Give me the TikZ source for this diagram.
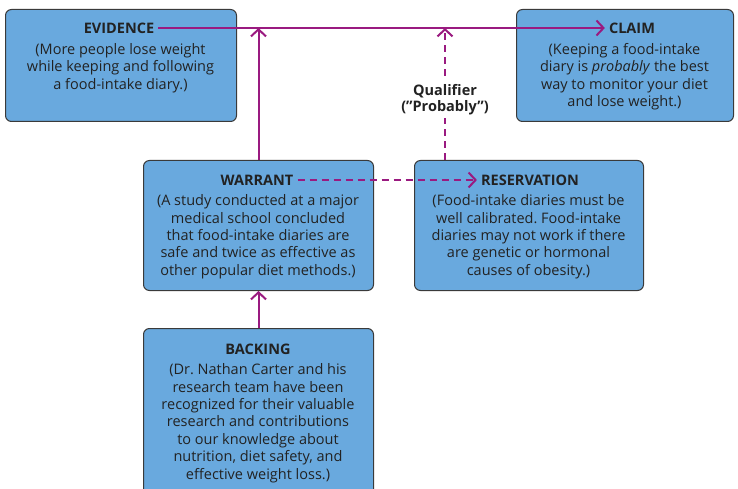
\documentclass[tikz,border=0pt]{standalone}
\usepackage{fontspec}
\setmainfont{Open Sans}
\usetikzlibrary{arrows.meta}
\definecolor{boxblue}{HTML}{69A9DE}
\definecolor{boxline}{HTML}{3A3A3A}
\definecolor{arrowc}{HTML}{9A1A80}
\definecolor{txt}{HTML}{222222}
\frenchspacing
\begin{document}
\begin{tikzpicture}[x=1pt,y=-1pt,
  box/.style={draw=boxline, line width=1pt, fill=boxblue, rounded corners=6pt, anchor=north west, inner sep=0pt},
  ttl/.style={font=\bfseries\fontsize{14.5}{16}\selectfont, text=txt, inner xsep=4pt, inner ysep=1pt},
  body/.style={font=\fontsize{14.5}{17.4}\selectfont, text=txt, align=center, anchor=north, inner sep=0pt},
  arr/.style={draw=arrowc, line width=2pt, -{Straight Barb[length=7pt,width=15pt,line width=2pt]}},
  dsh/.style={dash pattern=on 7pt off 5pt}
]
\useasboundingbox (0,0) rectangle (738,489);
\clip (0,0) rectangle (738,489);
\fill[white] (0,0) rectangle (738,489);

% boxes
\node[box, minimum width=231pt, minimum height=112pt] (ev) at (5,9) {};
\node[box, minimum width=217pt, minimum height=112pt] (cl) at (516,9) {};
\node[box, minimum width=230pt, minimum height=130pt] (wa) at (143,160) {};
\node[box, minimum width=229pt, minimum height=130pt] (re) at (414,160) {};
\node[box, minimum width=230pt, minimum height=175pt] (ba) at (143,328) {};

% titles
\node[ttl] (evt) at (119,28) {EVIDENCE};
\node[ttl] (clt) at (632,28) {CLAIM};
\node[ttl] (wat) at (257,180) {WARRANT};
\node[ttl] (ret) at (530,180) {RESERVATION};
\node[ttl] (bat) at (258,349.5) {BACKING};

% bodies
\node[body] (evb) at (120.5,43) {(More people lose weight\\while keeping and following\\a food-intake diary.)};
\node[body] (clb) at (624.5,43) {(Keeping a food-intake\\diary is \textit{probably} the best\\way to monitor your diet\\and lose weight.)};
\node[body] (wab) at (258,194.5) {(A study conducted at a major\\medical school concluded\\that food-intake diaries are\\safe and twice as effective as\\other popular diet methods.)};
\node[body] (reb) at (528.5,194.5) {(Food-intake diaries must be\\well calibrated. Food-intake\\diaries may not work if there\\are genetic or hormonal\\causes of obesity.)};
\node[body] (bab) at (258,363.5) {(Dr. Nathan Carter and his\\research team have been\\recognized for their valuable\\research and contributions\\to our knowledge about\\nutrition, diet safety, and\\effective weight loss.)};

% connectors
\coordinate (q) at (445,28);
\draw[arr] (evt.east) -- (clt.west);
\draw[arr] (wa.north) -- (wa.north |- evt.east);
\draw[arr, dsh] (re.north -| q) -- (q);
\draw[arr, dsh] (wat.east) -- (ret.west);
\draw[arr] (ba.north) -- (wa.south);

% qualifier label
\node[fill=white, font=\bfseries\fontsize{14.5}{16}\selectfont, text=txt, align=center, inner xsep=2pt, inner ysep=3pt] (ql) at (445,99.5) {Qualifier\\("Probably")};
\end{tikzpicture}
\end{document}
